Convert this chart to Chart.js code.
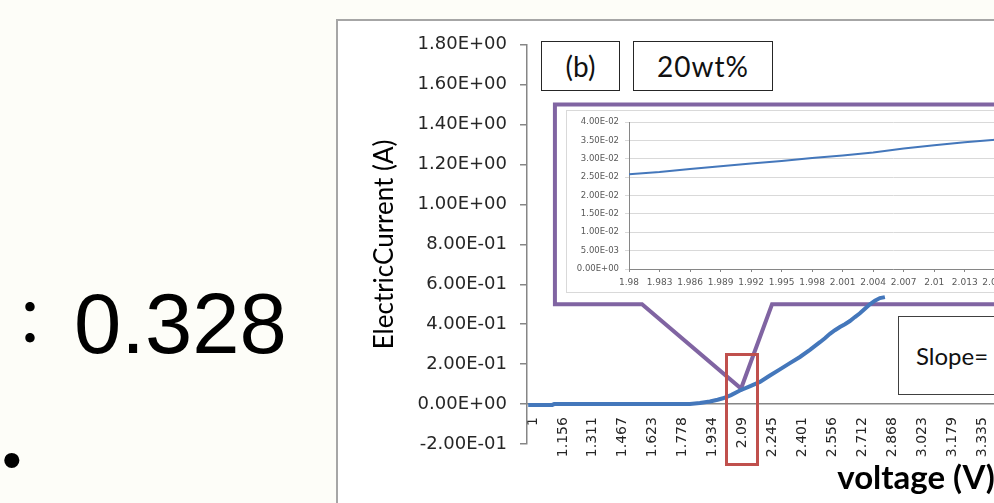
<!DOCTYPE html>
<html lang="en">
<head>
<meta charset="UTF-8" />
<title>I-V curve (b) 20wt%</title>
<script src="https://cdn.jsdelivr.net/npm/chart.js"></script>
<style>
  body { margin: 0; width: 994px; height: 503px; overflow: hidden; position: relative; background: #fdfdf8; }
  .big { position: absolute; left: 12px; top: 281px; font-size: 85px; line-height: 85px; color: #000;
         font-family: "Liberation Sans", "Noto Sans CJK JP", sans-serif; white-space: nowrap; }
  .big .colon { font-family: "Noto Sans CJK JP", sans-serif; font-size: 62px; line-height: 0;
                vertical-align: 7px; margin-left: -13px; margin-right: 13px; }
  .bullet { position: absolute; left: 2px; top: 432px; font-size: 56px; line-height: 56px; color: #000;
            font-family: "Liberation Sans", sans-serif; }
  #frame { position: absolute; left: 336px; top: 19px; width: 1000px; height: 600px;
           border: 2px solid #a6a6a6; background: #fff; }
  #frame canvas { position: absolute; left: 0; top: 0; }
  #inset { position: absolute; left: 566px; top: 110px; width: 700px; height: 181px;
           border: 1px solid #d9d9d9; background: #fff; }
  #inset canvas { position: absolute; left: 0; top: 0; }
  .box { position: absolute; box-sizing: border-box; border: 1.5px solid #262626; background: #fff;
         font-family: Lato, sans-serif; font-size: 24px; color: #111; display: flex; align-items: center; }
  .red { position: absolute; box-sizing: border-box; left: 725px; top: 353px; width: 34px; height: 113px;
         border: 3px solid #c0504d; }
</style>
</head>
<body>
<div class="big"><span class="colon">：</span>0.328</div>
<div class="bullet">•</div>

<div id="frame"><canvas id="mainChart" width="976" height="482"></canvas></div>
<div id="inset"><canvas id="insetChart" width="600" height="181"></canvas></div>

<div class="box" style="left:541px; top:41px; width:79px; height:50px; justify-content:center; font-size:28px;">(b)</div>
<div class="box" style="left:633px; top:41px; width:140px; height:50px; justify-content:center; font-size:28px; letter-spacing:1px;">20wt%</div>
<div class="box" style="left:898px; top:316px; width:200px; height:79px; padding-left:17px; border-color:#404040;">Slope=</div>
<div class="red"></div>

<script>
  // main sweep, current (A) vs voltage (V)
  const voltage = [0.975, 1.05, 1.10, 1.11, 1.3, 1.5, 1.7, 1.816, 1.868, 1.92, 1.96, 1.988, 2.03, 2.076,
    2.13, 2.18, 2.23, 2.284, 2.336, 2.388, 2.44, 2.492, 2.518, 2.544, 2.57, 2.596, 2.622, 2.648,
    2.674, 2.70, 2.726, 2.752, 2.778, 2.804, 2.83];
  const current = [-0.004, -0.004, -0.004, 0, 0, 0, 0, 0.001, 0.005, 0.013, 0.022, 0.029, 0.045, 0.068,
    0.09, 0.111, 0.142, 0.174, 0.205, 0.236, 0.272, 0.31, 0.33, 0.352, 0.37, 0.386, 0.4, 0.416,
    0.436, 0.455, 0.478, 0.5, 0.518, 0.531, 0.536];

  const xTickLabels = ['1', '1.156', '1.311', '1.467', '1.623', '1.778', '1.934', '2.09', '2.245',
    '2.401', '2.556', '2.712', '2.868', '3.023', '3.179', '3.335'];
  const yTickLabels = ['1.80E+00', '1.60E+00', '1.40E+00', '1.20E+00', '1.00E+00', '8.00E-01',
    '6.00E-01', '4.00E-01', '2.00E-01', '0.00E+00', '-2.00E-01'];

  // zoomed window around 2 V
  const insetVoltage = [1.98, 1.983, 1.986, 1.989, 1.992, 1.995, 1.998, 2.001, 2.004, 2.007, 2.01, 2.013, 2.016];
  const insetCurrent = [0.0258, 0.0264, 0.0272, 0.0280, 0.0287, 0.0294, 0.0302, 0.0309, 0.0317, 0.0328, 0.0337, 0.0345, 0.0352];
  const insetXLabels = ['1.98', '1.983', '1.986', '1.989', '1.992', '1.995', '1.998', '2.001', '2.004',
    '2.007', '2.01', '2.013', '2.016'];
  const insetYLabels = ['4.00E-02', '3.50E-02', '3.00E-02', '2.50E-02', '2.00E-02', '1.50E-02',
    '1.00E-02', '5.00E-03', '0.00E+00'];

  // callout frame around the zoom, in data units of the main chart
  const callout = { left: 1.114, right: 8, top: 1.501, bottom: 0.5, baseFrom: 1.567, baseTo: 2.243, tipV: 2.082, tipI: 0.078 };

  const lineBlue = '#4477bb';
  const axisGray = '#868686';

  const calloutPlugin = {
    id: 'callout',
    beforeDatasetsDraw(chart) {
      const { ctx, scales: { x, y } } = chart;
      ctx.save();
      ctx.strokeStyle = '#8064a2';
      ctx.lineWidth = 4;
      ctx.lineJoin = 'miter';
      ctx.beginPath();
      ctx.moveTo(x.getPixelForValue(callout.right), y.getPixelForValue(callout.top));
      ctx.lineTo(x.getPixelForValue(callout.left), y.getPixelForValue(callout.top));
      ctx.lineTo(x.getPixelForValue(callout.left), y.getPixelForValue(callout.bottom));
      ctx.lineTo(x.getPixelForValue(callout.baseFrom), y.getPixelForValue(callout.bottom));
      ctx.lineTo(x.getPixelForValue(callout.tipV), y.getPixelForValue(callout.tipI));
      ctx.lineTo(x.getPixelForValue(callout.baseTo), y.getPixelForValue(callout.bottom));
      ctx.lineTo(x.getPixelForValue(callout.right), y.getPixelForValue(callout.bottom));
      ctx.stroke();
      ctx.restore();
    }
  };

  const ticksFrom = (labels) => (scale) => {
    scale.ticks = labels.map((t) => ({ value: parseFloat(t) })).sort((a, b) => a.value - b.value);
  };
  const labelFor = (labels) => (v) => labels.find((t) => parseFloat(t) === v);

  new Chart(document.getElementById('mainChart'), {
    type: 'line',
    data: {
      datasets: [{
        data: voltage.map((v, i) => ({ x: v, y: current[i] })),
        borderColor: lineBlue,
        borderWidth: 4,
        pointRadius: 0,
        tension: 0
      }]
    },
    options: {
      responsive: false,
      animation: false,
      layout: { padding: { top: 19, right: 9, bottom: 59, left: 0 } },
      plugins: { legend: { display: false }, tooltip: { enabled: false } },
      scales: {
        x: {
          type: 'linear',
          position: { y: 0 },
          min: 0.9688,
          max: 5.0146,
          afterBuildTicks: ticksFrom(xTickLabels),
          afterFit: (s) => { s.height = 94; },
          ticks: {
            autoSkip: false, minRotation: 90, maxRotation: 90, padding: 13,
            font: { family: 'DejaVu Sans', size: 14 }, color: '#262626',
            callback: labelFor(xTickLabels)
          },
          grid: { display: false, drawTicks: false },
          border: { display: true, color: axisGray, width: 1.5 },
          title: { display: true, text: 'voltage (V)', color: '#000', padding: 0,
                   font: { family: 'Lato', size: 33, weight: 'bold' } }
        },
        y: {
          type: 'linear',
          min: -0.2,
          max: 1.8,
          afterBuildTicks: ticksFrom(yTickLabels),
          afterFit: (s) => { s.width = 189; },
          ticks: {
            padding: 13, font: { family: 'DejaVu Sans', size: 18 }, color: '#262626',
            callback: labelFor(yTickLabels)
          },
          grid: { drawOnChartArea: false, tickLength: 7, color: axisGray, lineWidth: 1.5 },
          border: { color: axisGray, width: 1.5 },
          title: { display: true, text: 'ElectricCurrent (A)', color: '#000',
                   padding: { top: 31, bottom: 0 }, font: { family: 'Lato', size: 26 } }
        }
      }
    },
    plugins: [calloutPlugin]
  });

  new Chart(document.getElementById('insetChart'), {
    type: 'line',
    data: {
      datasets: [{
        data: insetVoltage.map((v, i) => ({ x: v, y: insetCurrent[i] })),
        borderColor: lineBlue,
        borderWidth: 2,
        pointRadius: 0,
        tension: 0
      }]
    },
    options: {
      responsive: false,
      animation: false,
      layout: { padding: { top: 9, right: 10, bottom: 0, left: 0 } },
      plugins: { legend: { display: false }, tooltip: { enabled: false } },
      scales: {
        x: {
          type: 'linear',
          min: 1.98,
          max: 2.0319,
          afterBuildTicks: ticksFrom(insetXLabels),
          afterFit: (s) => { s.height = 23; },
          ticks: {
            autoSkip: false, maxRotation: 0, padding: 5,
            font: { family: 'DejaVu Sans', size: 9 }, color: '#595959',
            callback: labelFor(insetXLabels)
          },
          grid: { drawOnChartArea: false, tickLength: 3, color: axisGray },
          border: { color: axisGray }
        },
        y: {
          type: 'linear',
          min: 0,
          max: 0.04,
          afterBuildTicks: ticksFrom(insetYLabels),
          afterFit: (s) => { s.width = 62; },
          ticks: {
            padding: 6, font: { family: 'DejaVu Sans', size: 8.5 }, color: '#595959',
            callback: labelFor(insetYLabels)
          },
          grid: { color: '#d9d9d9', tickLength: 4, lineWidth: 1 },
          border: { color: axisGray }
        }
      }
    }
  });
</script>
</body>
</html>
